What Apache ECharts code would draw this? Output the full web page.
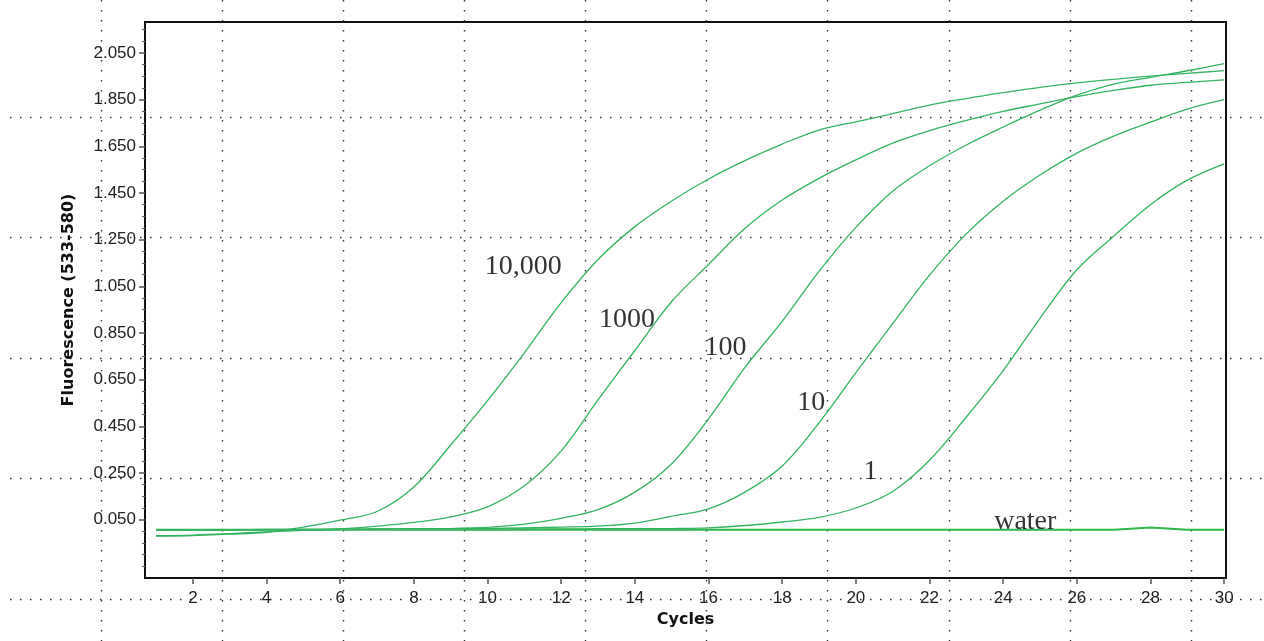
<!DOCTYPE html>
<html>
<head>
<meta charset="utf-8">
<script src="https://cdn.jsdelivr.net/npm/echarts@6/dist/echarts.min.js"></script>
<style>
  html, body { margin: 0; padding: 0; background: #fff; }
  #chart { width: 1264px; height: 641px; }
</style>
</head>
<body>
<div id="chart"></div>
<script>
// amplification cycles
const cycles = [1, 2, 3, 4, 5, 6, 7, 8, 9, 10, 11, 12, 13, 14, 15, 16, 17, 18, 19, 20, 21, 22, 23, 24, 25, 26, 27, 28, 29, 30]

// fluorescence (533-580) per dilution
const copies10000 = [-0.020, -0.018, -0.012, -0.004, 0.018, 0.048, 0.085, 0.190, 0.370, 0.560, 0.765, 0.980, 1.165, 1.306, 1.416, 1.510, 1.590, 1.660, 1.720, 1.755, 1.790, 1.827, 1.855, 1.880, 1.903, 1.922, 1.937, 1.951, 1.963, 1.975]
const copies1000 = [-0.018, -0.016, -0.010, -0.002, 0.004, 0.010, 0.022, 0.038, 0.062, 0.105, 0.195, 0.345, 0.563, 0.775, 0.985, 1.144, 1.300, 1.420, 1.513, 1.592, 1.664, 1.717, 1.761, 1.800, 1.832, 1.863, 1.890, 1.912, 1.924, 1.935]
const copies100 = [0.004, 0.005, 0.005, 0.006, 0.007, 0.008, 0.009, 0.010, 0.012, 0.017, 0.031, 0.056, 0.093, 0.168, 0.290, 0.482, 0.705, 0.900, 1.114, 1.303, 1.458, 1.567, 1.656, 1.733, 1.805, 1.870, 1.917, 1.946, 1.974, 2.005]
const copies10 = [0.006, 0.007, 0.007, 0.008, 0.008, 0.009, 0.010, 0.011, 0.012, 0.013, 0.015, 0.018, 0.022, 0.035, 0.065, 0.096, 0.169, 0.280, 0.465, 0.680, 0.890, 1.098, 1.275, 1.415, 1.527, 1.621, 1.694, 1.754, 1.810, 1.850]
const copies1 = [0.006, 0.006, 0.007, 0.007, 0.008, 0.008, 0.008, 0.009, 0.009, 0.010, 0.010, 0.010, 0.011, 0.011, 0.012, 0.015, 0.025, 0.040, 0.060, 0.100, 0.171, 0.305, 0.490, 0.689, 0.913, 1.121, 1.265, 1.400, 1.505, 1.575]
const water = [0.007, 0.007, 0.007, 0.007, 0.007, 0.007, 0.007, 0.007, 0.007, 0.007, 0.007, 0.007, 0.007, 0.007, 0.007, 0.007, 0.007, 0.007, 0.007, 0.007, 0.007, 0.007, 0.007, 0.007, 0.007, 0.007, 0.007, 0.016, 0.007, 0.007]

// axis ticks
const xTickValues = [2, 4, 6, 8, 10, 12, 14, 16, 18, 20, 22, 24, 26, 28, 30]
const yTickValues = [0.05, 0.25, 0.45, 0.65, 0.85, 1.05, 1.25, 1.45, 1.65, 1.85, 2.05]
const yMinorTickValues = [-0.15, -0.1, -0.05, 0, 0.1, 0.15, 0.2, 0.3, 0.35, 0.4, 0.5, 0.55, 0.6, 0.7, 0.75, 0.8, 0.9, 0.95, 1.0, 1.1, 1.15, 1.2, 1.3, 1.35, 1.4, 1.5, 1.55, 1.6, 1.7, 1.75, 1.8, 1.9, 1.95, 2.0, 2.1, 2.15]

// curve annotations (text, cycle, fluorescence)
const curveLabels = ['10,000', '1000', '100', '10', '1', 'water']
const curveLabelCycles = [10.97, 13.79, 16.46, 18.79, 20.4, 24.6]
const curveLabelValues = [1.136, 0.908, 0.788, 0.552, 0.256, 0.041]

const pairs = (vals) => cycles.map((c, i) => [c, vals[i]])

const chart = echarts.init(document.getElementById('chart'), null, { renderer: 'canvas' })

const tickFont = 'Liberation Sans, Arial, sans-serif'
const nameFont = 'DejaVu Sans, sans-serif'
const dots = { color: '#333', width: 1.4, type: [1.5, 8.5] }

const curveStyle = (vals, name) => ({
  name: name,
  type: 'line',
  xAxisIndex: 0,
  yAxisIndex: 0,
  symbol: 'none',
  smooth: 0.35,
  lineStyle: { color: '#34b462', width: 1.3 },
  z: 5,
  data: pairs(vals),
})

const option = {
  animation: false,
  backgroundColor: '#fff',
  grid: [
    // plot
    { left: 145, right: 38, top: 22, bottom: 63, show: true, borderColor: '#111', borderWidth: 2, containLabel: false, outerBoundsMode: 'none' },
    // page dots, vertical
    { left: 101, right: 73, top: 0, bottom: 0, containLabel: false, outerBoundsMode: 'none' },
    // page dots, horizontal
    { left: 10, right: 0, top: 117, bottom: 42, containLabel: false, outerBoundsMode: 'none' },
  ],
  xAxis: [
    {
      gridIndex: 0,
      type: 'value',
      position: 'bottom',
      min: 0.7,
      max: 30.05,
      axisLine: { show: false, onZero: false },
      splitLine: { show: false },
      axisTick: { show: true, customValues: xTickValues, length: 6, lineStyle: { color: '#555', width: 1.5 } },
      axisLabel: { customValues: xTickValues, fontSize: 17, fontFamily: tickFont, color: '#222', margin: 12 },
      name: 'Cycles',
      nameLocation: 'middle',
      nameGap: 34,
      nameTextStyle: { fontFamily: nameFont, fontWeight: 'bold', fontSize: 16, color: '#111' },
    },
    {
      gridIndex: 1,
      type: 'value',
      min: 0,
      max: 9,
      interval: 1,
      silent: true,
      axisLine: { show: false },
      axisTick: { show: false },
      axisLabel: { show: false },
      splitLine: { show: true, lineStyle: dots },
    },
    { gridIndex: 2, type: 'value', show: false },
  ],
  yAxis: [
    {
      gridIndex: 0,
      type: 'value',
      min: -0.2,
      max: 2.183,
      axisLine: { show: false, onZero: false },
      splitLine: { show: false },
      axisTick: { show: true, customValues: yTickValues, length: 6, lineStyle: { color: '#555', width: 1.5 } },
      axisLabel: {
        customValues: yTickValues,
        formatter: (v) => v.toFixed(3),
        fontSize: 17,
        fontFamily: tickFont,
        color: '#222',
        margin: 9,
      },
      name: 'Fluorescence (533-580)',
      nameLocation: 'middle',
      nameRotate: 90,
      nameGap: 68,
      nameTextStyle: { fontFamily: nameFont, fontWeight: 'bold', fontSize: 16, color: '#111' },
    },
    {
      gridIndex: 0,
      type: 'value',
      position: 'left',
      min: -0.2,
      max: 2.183,
      axisLine: { show: false, onZero: false },
      splitLine: { show: false },
      axisLabel: { show: false },
      axisTick: { show: true, customValues: yMinorTickValues, length: 3, lineStyle: { color: '#666', width: 1.2 } },
    },
    { gridIndex: 1, type: 'value', show: false },
    {
      gridIndex: 2,
      type: 'value',
      min: 0,
      max: 4,
      interval: 1,
      silent: true,
      axisLine: { show: false },
      axisTick: { show: false },
      axisLabel: { show: false },
      splitLine: { show: true, lineStyle: dots },
    },
  ],
  series: [
    curveStyle(copies10000, '10,000'),
    curveStyle(copies1000, '1000'),
    curveStyle(copies100, '100'),
    curveStyle(copies10, '10'),
    curveStyle(copies1, '1'),
    {
      name: 'water',
      type: 'line',
      xAxisIndex: 0,
      yAxisIndex: 0,
      symbol: 'none',
      lineStyle: { color: '#2cb84a', width: 2 },
      z: 4,
      data: pairs(water),
    },
    {
      type: 'scatter',
      xAxisIndex: 0,
      yAxisIndex: 0,
      symbolSize: 0,
      silent: true,
      z: 6,
      label: {
        show: true,
        position: 'inside',
        formatter: '{b}',
        fontFamily: 'Liberation Serif, Times New Roman, serif',
        fontSize: 28,
        color: '#000',
      },
      data: curveLabels.map((t, i) => ({ name: t, value: [curveLabelCycles[i], curveLabelValues[i]] })),
    },
  ],
}

chart.setOption(option)
</script>
</body>
</html>
